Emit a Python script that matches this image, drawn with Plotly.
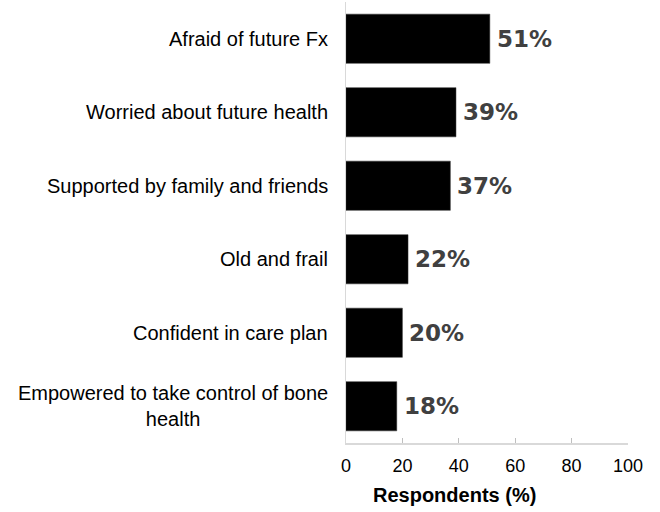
import plotly.graph_objects as go

categories = [
    "Afraid of future Fx",
    "Worried about future health",
    "Supported by family and friends",
    "Old and frail",
    "Confident in care plan",
    "Empowered to take control of bone<br>health",
]
values = [51, 39, 37, 22, 20, 18]
tick_vals = [0, 20, 40, 60, 80, 100]
x_title = "Respondents (%)"

fig = go.Figure()
fig.add_trace(go.Bar(
    x=values, y=list(range(len(categories))), orientation="h",
    marker=dict(color="#000000", line=dict(color="#333333", width=0.5)),
    hoverinfo="skip",
))

annotations = []
for i, (c, v) in enumerate(zip(categories, values)):
    annotations.append(dict(
        x=0, xref="paper", y=i, yref="y", text=c, showarrow=False,
        xanchor="right", yanchor="middle", align="center", xshift=-16,
        font=dict(family="Arial, Liberation Sans", size=20, color="#000000"),
    ))
    annotations.append(dict(
        x=v, xref="x", y=i, yref="y", text=f"{v}%", showarrow=False,
        xanchor="left", yanchor="middle", xshift=5,
        font=dict(family="DejaVu Sans", size=23, color="#404040", weight="bold"),
    ))
annotations.append(dict(
    x=0.383, xref="paper", y=-0.118, yref="paper", text=f"<b>{x_title}</b>",
    showarrow=False, xanchor="center", yanchor="middle",
    font=dict(family="Arial, Liberation Sans", size=20, color="#000000"),
))

fig.update_layout(
    width=660, height=512,
    margin=dict(l=346, r=32, t=2, b=69),
    paper_bgcolor="white", plot_bgcolor="white",
    showlegend=False, bargap=0.33,
    annotations=annotations,
    xaxis=dict(
        range=[0, 100], tickvals=tick_vals, ticks="inside", ticklen=5,
        tickcolor="#bfbfbf", showline=True, linecolor="#d9d9d9", linewidth=1.5,
        showgrid=False, zeroline=False, ticklabelstandoff=6,
        tickfont=dict(family="Arial, Liberation Sans", size=18, color="#000000"),
    ),
    yaxis=dict(
        range=[5.5, -0.5], showticklabels=False, ticks="",
        showline=True, linecolor="#d9d9d9", linewidth=1.5,
        showgrid=False, zeroline=False,
    ),
)

fig.write_html(
    "out.html",
    config={"displayModeBar": False, "staticPlot": True},
    post_script="document.body.style.margin='0';document.body.style.overflow='hidden';",
)
